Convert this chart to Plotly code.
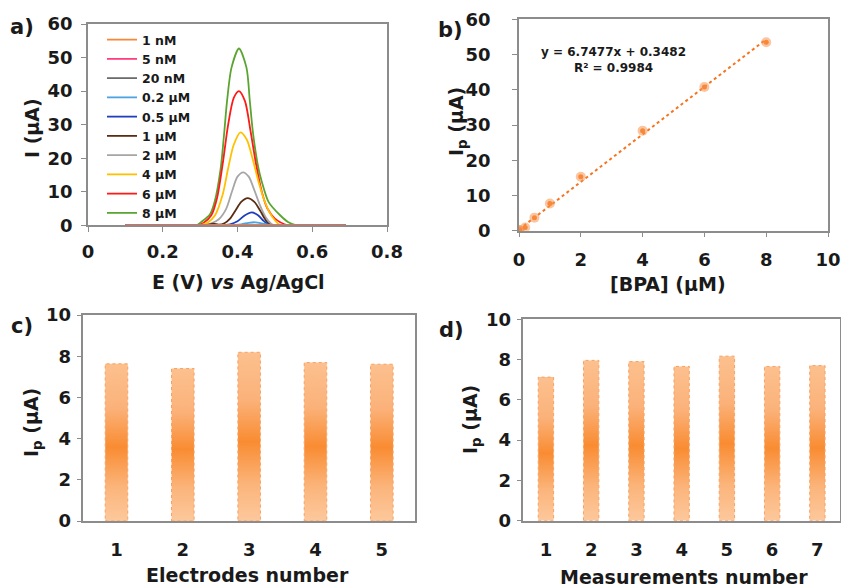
import plotly.graph_objects as go

W, H = 841, 587

# ---------------- Panel a: DPV curves ----------------
curve_names = ["1 nM", "5 nM", "20 nM", "0.2 µM", "0.5 µM", "1 µM", "2 µM", "4 µM", "6 µM", "8 µM"]
curve_colors = ["#F7883A", "#FF3D7F", "#6B6B6B", "#4EA3E0", "#1F3FBF", "#5A2D12",
                "#A6A6A6", "#FFC000", "#FF1A1A", "#5AA530"]

E_1nM = [0.10, 0.20, 0.30, 0.40, 0.50, 0.60, 0.69]
I_1nM = [0, 0, 0, 0.05, 0, 0, 0]
E_5nM = [0.10, 0.20, 0.30, 0.40, 0.50, 0.60, 0.69]
I_5nM = [0, 0, 0, 0.08, 0, 0, 0]
E_20nM = [0.10, 0.20, 0.30, 0.40, 0.50, 0.60, 0.69]
I_20nM = [0, 0, 0, 0.12, 0, 0, 0]
E_02uM = [0.10, 0.25, 0.38, 0.41, 0.43, 0.447, 0.465, 0.48, 0.495, 0.60, 0.69]
I_02uM = [0, 0, 0, 0.3, 0.75, 0.9, 0.6, 0.2, 0, 0, 0]
E_05uM = [0.10, 0.25, 0.35, 0.38, 0.40, 0.42, 0.438, 0.455, 0.47, 0.48, 0.49, 0.60, 0.69]
I_05uM = [0, 0, 0, 0.3, 1.2, 3.0, 3.85, 3.0, 1.3, 0.4, 0, 0, 0]
E_1uM = [0.10, 0.22, 0.315, 0.335, 0.35, 0.365, 0.38, 0.395, 0.41, 0.427, 0.445, 0.46, 0.47, 0.48, 0.49, 0.60, 0.69]
I_1uM = [0, 0, 0, 0.5, 0.2, 0.6, 2.0, 4.5, 7.0, 8.1, 7.0, 4.5, 2.5, 0.8, 0, 0, 0]
E_2uM = [0.10, 0.22, 0.31, 0.33, 0.35, 0.37, 0.385, 0.40, 0.415, 0.43, 0.445, 0.46, 0.475, 0.49, 0.50, 0.60, 0.69]
I_2uM = [0, 0, 0, 0.6, 1.8, 5.0, 10.0, 14.5, 15.8, 14.5, 10.5, 6.0, 2.5, 0.5, 0, 0, 0]
E_4uM = [0.10, 0.22, 0.30, 0.32, 0.34, 0.36, 0.375, 0.39, 0.408, 0.425, 0.44, 0.455, 0.47, 0.485, 0.50, 0.515, 0.60, 0.69]
I_4uM = [0, 0, 0, 0.8, 3.0, 9.0, 17.0, 24.0, 27.7, 25.5, 20.0, 13.5, 8.0, 4.0, 1.5, 0, 0, 0]
E_6uM = [0.10, 0.22, 0.295, 0.31, 0.33, 0.345, 0.36, 0.375, 0.39, 0.404, 0.42, 0.435, 0.45, 0.465, 0.48, 0.50, 0.535, 0.61, 0.69]
I_6uM = [0, 0, 0, 0.8, 3.0, 8.0, 18.0, 30.0, 38.0, 40.0, 37.0, 28.0, 18.0, 10.0, 5.0, 2.0, 0, 0, 0]
E_8uM = [0.10, 0.22, 0.29, 0.303, 0.326, 0.339, 0.355, 0.364, 0.372, 0.384, 0.404, 0.424, 0.433, 0.442,
         0.456, 0.465, 0.483, 0.514, 0.535, 0.558, 0.62, 0.69]
I_8uM = [0, 0, 0, 1.0, 3.2, 7.1, 17.0, 27.0, 37.0, 47.0, 52.7, 47.0, 37.0, 27.0,
         17.0, 13.0, 7.0, 3.0, 1.0, 0, 0, 0]

curves_E = [E_1nM, E_5nM, E_20nM, E_02uM, E_05uM, E_1uM, E_2uM, E_4uM, E_6uM, E_8uM]
curves_I = [I_1nM, I_5nM, I_20nM, I_02uM, I_05uM, I_1uM, I_2uM, I_4uM, I_6uM, I_8uM]

# ---------------- Panel b: calibration ----------------
bpa_conc = [0.001, 0.005, 0.02, 0.2, 0.5, 1, 2, 4, 6, 8]
bpa_ip = [0.05, 0.1, 0.15, 0.9, 3.7, 7.7, 15.3, 28.4, 40.8, 53.5]
fit_slope, fit_intercept = 6.7477, 0.3482
fit_x = [0, 8]
eq_text = "y = 6.7477x + 0.3482<br>R² = 0.9984"

# ---------------- Panel c / d: bars ----------------
electrodes = [1, 2, 3, 4, 5]
electrodes_ip = [7.63, 7.40, 8.19, 7.69, 7.61]
measurements = [1, 2, 3, 4, 5, 6, 7]
measurements_ip = [7.13, 7.96, 7.90, 7.66, 8.17, 7.66, 7.70]

FONT = "DejaVu Sans"
TXT = "#1a1a1a"
AX = "#8c8c8c"

fig = go.Figure()

# panel a traces
for i in range(len(curve_names))[::-1]:
    fig.add_trace(go.Scatter(
        x=curves_E[i], y=curves_I[i], mode="lines", name=curve_names[i],
        line=dict(color=curve_colors[i], width=1.8, shape="spline", smoothing=0.8),
        xaxis="x", yaxis="y", legendrank=i + 1, showlegend=True))

# panel b
fig.add_trace(go.Scatter(
    x=fit_x, y=[fit_slope * v + fit_intercept for v in fit_x], mode="lines",
    line=dict(color="#F7731E", width=2, dash="dot"), xaxis="x2", yaxis="y2", showlegend=False))
fig.add_trace(go.Scatter(
    x=bpa_conc, y=bpa_ip, mode="markers",
    marker=dict(size=10, color="rgba(248,150,80,0.55)", line=dict(width=0)),
    xaxis="x2", yaxis="y2", showlegend=False))
fig.add_trace(go.Scatter(
    x=bpa_conc, y=bpa_ip, mode="markers",
    marker=dict(size=5, color="#F7883A", line=dict(width=0)),
    xaxis="x2", yaxis="y2", showlegend=False))

BAR_W = 0.34
grad = [[0, "#FDC89C"], [0.22, "#FBB47A"], [0.47, "#F98C32"], [0.72, "#FBB27A"], [1, "#FCC08E"]]


def add_bars(xs, ys, xa, ya):
    for xv, yv in zip(xs, ys):
        fig.add_trace(go.Scatter(
            x=[xv - BAR_W / 2, xv + BAR_W / 2, xv + BAR_W / 2, xv - BAR_W / 2, xv - BAR_W / 2],
            y=[0, 0, yv, yv, 0], mode="lines", fill="toself",
            fillgradient=dict(type="vertical", colorscale=grad),
            line=dict(color="#F9A060", width=1, dash="dot"),
            xaxis=xa, yaxis=ya, showlegend=False, hoverinfo="skip"))


add_bars(electrodes, electrodes_ip, "x3", "y3")
add_bars(measurements, measurements_ip, "x4", "y4")


def px_x(a, b):
    return [a / W, b / W]


def px_y(top, bottom):
    return [(H - bottom) / H, (H - top) / H]


tickfont = dict(family=FONT, size=18, color=TXT, weight=700)
common = dict(showline=True, linecolor=AX, linewidth=1.5, mirror=True, showgrid=False,
              zeroline=False, tickfont=tickfont, ticks="outside", ticklen=5, tickcolor=AX,
              automargin=False)

fig.update_layout(
    width=W, height=H, margin=dict(l=0, r=0, t=0, b=0, autoexpand=False),
    paper_bgcolor="white", plot_bgcolor="white",
    xaxis=dict(domain=px_x(88, 387), range=[0, 0.8], dtick=0.2, tickformat=".1~f", anchor="y",
               **dict(common, ticklabelstandoff=4)),
    yaxis=dict(domain=px_y(24, 225.3), range=[0, 60], dtick=10, anchor="x",
               **dict(common, ticklabelstandoff=5)),
    xaxis2=dict(domain=px_x(519, 828), range=[0, 10], dtick=2, anchor="y2",
                **dict(common, ticklabelstandoff=7)),
    yaxis2=dict(domain=px_y(19.3, 230.7), range=[0, 60], dtick=10, anchor="x2",
                **dict(common, ticklabelstandoff=18)),
    xaxis3=dict(domain=px_x(83.3, 415), range=[0.5, 5.5], tickvals=electrodes, anchor="y3",
                **dict(common, ticks="", ticklabelstandoff=12)),
    yaxis3=dict(domain=px_y(315, 521), range=[0, 10], dtick=2, anchor="x3",
                **dict(common, ticklabelstandoff=2)),
    xaxis4=dict(domain=px_x(523.3, 840), range=[0.5, 7.5], tickvals=measurements, anchor="y4",
                **dict(common, ticks="", ticklabelstandoff=12)),
    yaxis4=dict(domain=px_y(319.3, 520.7), range=[0, 10], dtick=2, anchor="x4",
                **dict(common, ticklabelstandoff=2)),
    legend=dict(x=102 / W, y=1 - 25 / H, xanchor="left", yanchor="top",
                bgcolor="rgba(0,0,0,0)", font=dict(family=FONT, size=12.5, color=TXT, weight=700),
                itemwidth=30, tracegroupgap=0, traceorder="normal"),
    showlegend=True,
)


def ann(text, x, y, size, angle=0):
    fig.add_annotation(text=text, x=x / W, y=1 - y / H, xref="paper", yref="paper",
                       xanchor="center", yanchor="middle", showarrow=False, textangle=angle,
                       align="center", font=dict(family=FONT, size=size, color=TXT, weight=700))


# panel letters
ann("a)", 21.5, 27.5, 21)
ann("b)", 450, 30, 21)
ann("c)", 21.5, 326, 21)
ann("d)", 451.5, 330, 21)

# axis titles
ann("E (V) <i>vs</i> Ag/AgCl", 238, 282, 19)
ann("I (µA)", 32, 128, 19, -90)
ann("[BPA] (µM)", 668, 284, 19)
ann("I<sub>p</sub> (µA)", 458, 122, 19, -90)
ann("Electrodes number", 248, 575, 19)
ann("I<sub>p</sub> (µA)", 32, 422, 19, -90)
ann("Measurements number", 684, 577, 19)
ann("I<sub>p</sub> (µA)", 471, 420, 19, -90)

# regression equation
ann(eq_text, 613, 60, 12)

fig.write_html("out.html")
